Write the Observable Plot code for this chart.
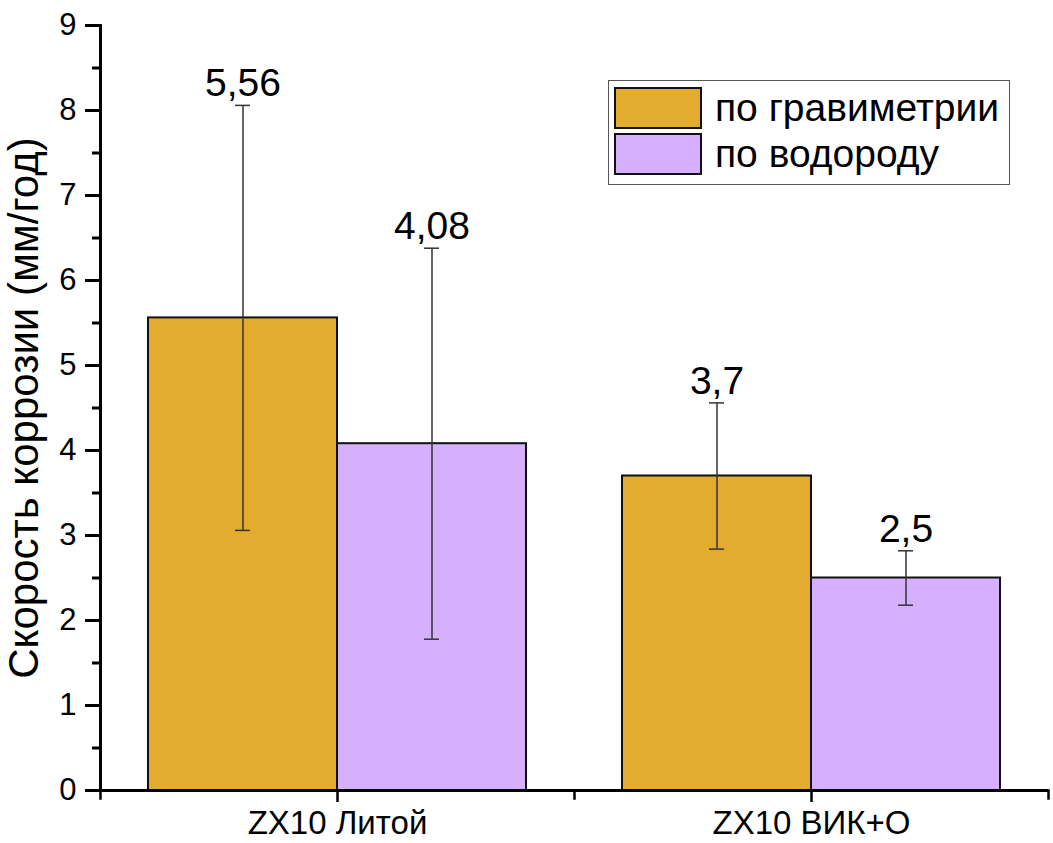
<!DOCTYPE html>
<html><head><meta charset="utf-8">
<script src="https://cdn.jsdelivr.net/npm/d3@7"></script>
<script src="https://cdn.jsdelivr.net/npm/@observablehq/plot@0.6"></script>
<style>
body{margin:0;background:#fff;font-family:"Liberation Sans",Arial,sans-serif;}
#wrap{position:relative;width:1053px;height:843px;overflow:hidden;}
#legend{position:absolute;left:608px;top:80px;width:402px;height:105px;border:1.5px solid #555;box-sizing:border-box;background:#fff;}
.row{position:absolute;left:5px;height:43px;display:flex;align-items:center;}
.sw{width:88px;height:42px;box-sizing:border-box;border:2px solid #111;margin-right:13px;}
.lt{font-size:39px;color:#000;white-space:nowrap;}
</style></head><body><div id="wrap"></div>
<script>
const groups = ["ZX10 Литой", "ZX10 ВИК+О"];
const series = ["по гравиметрии", "по водороду"];
const gravValues = [5.56, 3.7];
const hydroValues = [4.08, 2.5];
const gravErrors = [2.5, 0.86];
const hydroErrors = [2.3, 0.32];
const yTicks = [0, 1, 2, 3, 4, 5, 6, 7, 8, 9];
const yMinorTicks = [0.5, 1.5, 2.5, 3.5, 4.5, 5.5, 6.5, 7.5, 8.5];
const colors = ["#E3AC2E", "#D6B0FC"];
const yLabel = "Скорость коррозии (мм/год)";

const data = groups.flatMap((g, i) => [
  {group: g, series: series[0], value: gravValues[i], err: gravErrors[i]},
  {group: g, series: series[1], value: hydroValues[i], err: hydroErrors[i]}
]);
const fmt = v => String(v).replace(".", ",");

const chart = Plot.plot({
  width: 1053, height: 843,
  marginLeft: 100, marginRight: 5, marginTop: 25, marginBottom: 53,
  style: {fontFamily: "'Liberation Sans', Arial, sans-serif", background: "white", color: "black"},
  fx: {domain: groups, padding: 0, label: null},
  x: {domain: series, paddingInner: 0, paddingOuter: 0.25, axis: null},
  y: {domain: [0, 9]},
  color: {domain: series, range: colors},
  marks: [
    Plot.barY(data, {fx: "group", x: "series", y: "value", fill: "series", stroke: "#111", strokeWidth: 2}),
    Plot.ruleX(data, {fx: "group", x: "series", y1: d => d.value - d.err, y2: d => d.value + d.err, stroke: "#333", strokeWidth: 1.5}),
    Plot.tickY(data, {fx: "group", x: "series", y: d => d.value - d.err, insetLeft: 87, insetRight: 87, stroke: "#333", strokeWidth: 1.5}),
    Plot.tickY(data, {fx: "group", x: "series", y: d => d.value + d.err, insetLeft: 87, insetRight: 87, stroke: "#333", strokeWidth: 1.5}),
    Plot.text(data, {fx: "group", x: "series", y: d => d.value + d.err, text: d => fmt(d.value), dy: -9, lineAnchor: "bottom", fontSize: 39, fill: "black"}),
    Plot.ruleY([0], {stroke: "black", strokeWidth: 3}),
    Plot.axisY(yTicks, {tickSize: 15, tickPadding: 9, fontSize: 31, stroke: "black", strokeWidth: 3, tickFormat: d => String(d), label: null}),
    Plot.axisY(yMinorTicks, {tickSize: 8, stroke: "black", strokeWidth: 3, tickFormat: () => "", label: null}),
    Plot.axisY([], {tickSize: 0, fontSize: 42, label: yLabel, labelAnchor: "center", labelArrow: "none", labelOffset: 92}),
    Plot.frame({anchor: "left", facetAnchor: "left", stroke: "black", strokeWidth: 3}),
    Plot.frame({anchor: "left", insetTop: 765, insetBottom: -8, stroke: "black", strokeWidth: 2.5}),
    Plot.frame({anchor: "right", facetAnchor: "right", insetTop: 765, insetBottom: -8, stroke: "black", strokeWidth: 2.5}),
    Plot.axisFx({anchor: "bottom", tickSize: 12, stroke: "black", strokeWidth: 2.5, fontSize: 33, tickPadding: 8, label: null})
  ]
});
const wrap = document.getElementById("wrap");
wrap.appendChild(chart);

const legend = document.createElement("div");
legend.id = "legend";
series.forEach((s, i) => {
  const row = document.createElement("div");
  row.className = "row";
  row.style.top = (5 + i * 46) + "px";
  const sw = document.createElement("div");
  sw.className = "sw";
  sw.style.background = colors[i];
  const t = document.createElement("span");
  t.className = "lt";
  t.textContent = s;
  row.appendChild(sw); row.appendChild(t);
  legend.appendChild(row);
});
wrap.appendChild(legend);
</script>
</body></html>
